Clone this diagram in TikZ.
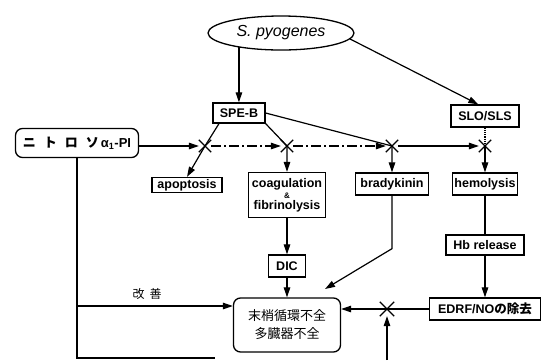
\documentclass[tikz,border=0pt]{standalone}
\usepackage{fontspec}
\setmainfont{Liberation Sans}
\newfontfamily\cjk{Noto Sans CJK JP}
\usepackage{tikz}
\usetikzlibrary{arrows.meta, shapes.geometric, shapes.misc}

\begin{document}
\begin{tikzpicture}[x=1pt, y=-1pt]
        \tikzset{box/.style={draw, line width=1.3pt, inner sep=1pt, font=\bfseries\fontsize{12.5}{13}\selectfont},
                 rbox/.style={box, rounded corners=7pt},
                 block/.style={cross out, draw, line width=1.3pt, minimum size=11pt, inner sep=0pt},
                 link/.style={line width=1.2pt},
                 arr/.style={link, -{Triangle[length=10pt, width=6.5pt]}},
                 dashdot/.style={dash pattern=on 10pt off 3pt on 2pt off 3pt}}
        \useasboundingbox [fill=white] (0, 0) rectangle (541, 360);
        \node [ellipse, draw, line width=1.3pt, minimum width=146, minimum height=34, font=\itshape\fontsize{16}{18}\selectfont] (pyo) at (281, 33) {S. pyogenes};
        \node [box, minimum width=52, minimum height=20] (speb) at (239, 113) {SPE-B};
        \node [box, minimum width=68, minimum height=22] (slo) at (485, 116) {SLO/SLS};
        \node [rbox, minimum width=123, minimum height=29, font=\bfseries\fontsize{13}{15}\selectfont] (nitro) at (77, 143) {{\cjk ニ\hspace{8pt}ト\hspace{8pt}ロ\hspace{8pt}ソ}\hspace{2pt}α\textsubscript{1}-PI};
        \node [box, minimum width=70, minimum height=15] (apop) at (187, 185) {apoptosis};
        \node [box, minimum width=77, minimum height=45, align=center, font=\bfseries\fontsize{12.5}{11}\selectfont] (coag) at (287, 195) {coagulation\\{\fontsize{8}{8}\selectfont\&}\\fibrinolysis};
        \node [box, minimum width=73, minimum height=22] (brady) at (392, 184) {bradykinin};
        \node [box, minimum width=65, minimum height=22] (hemo) at (485, 184) {hemolysis};
        \node [box, minimum width=78, minimum height=20] (hb) at (485, 245) {Hb release};
        \node [box, minimum width=37, minimum height=22] (dic) at (287, 266) {DIC};
        \node [box, minimum width=111, minimum height=22] (edrf) at (485, 309) {EDRF/NO{\cjk の除去}};
        \node [rbox, minimum width=107, minimum height=54, align=center, font=\cjk\fontsize{13}{18}\selectfont] (organ) at (287, 325) {末梢循環不全\\多臓器不全};
        \node [block] (x1) at (205, 146) {};
        \node [block] (x2) at (287, 146) {};
        \node [block] (x3) at (392, 146) {};
        \node [block] (x4) at (485, 146) {};
        \node [block, minimum size=13] (x5) at (387, 309) {};
        \coordinate (toorgan) at (325, 289);
        \coordinate (imp) at (77, 306);
        \coordinate (low) at (77, 358);
        \coordinate (lowend) at (215, 358);
        \coordinate (up) at (387, 360);
        \draw [arr] (pyo.199) -- (pyo.199 |- speb.north);
        \draw [arr] (pyo.-5) -- (slo.120);
        \draw [arr] (nitro.east |- x1) -- (x1);
        \draw [arr] (speb.208) -- (x1.center) -- (apop.north);
        \draw [arr] (speb.south east) -- (x2.center) -- (coag.north);
        \draw [arr] (speb.east) -- (x3.center) -- (brady.north);
        \draw [arr, dashdot] (x1) -- (x2);
        \draw [arr, dashdot] (x2) -- (x3);
        \draw [arr] (x3) -- (x4);
        \draw [link, densely dotted] (slo) -- (x4.center);
        \draw [arr] (x4.center) -- (hemo);
        \draw [arr] (coag) -- (dic);
        \draw [arr] (dic) -- (organ);
        \draw [arr] (brady.south) -- ++(0, 53) -- (toorgan);
        \draw [link] (hemo) -- (hb);
        \draw [arr] (hb) -- (edrf);
        \draw [link] (edrf.west) -- (x5.center);
        \draw [arr] (x5.center) -- (organ.east |- x5);
        \draw [arr] (up) -- (x5);
        \draw [link] (nitro.south) -- (low) -- (lowend);
        \draw [arr] (imp) -- (imp -| organ.west) node [pos=0.45, above=3pt, font=\cjk\fontsize{12}{14}\selectfont] (better) {改\hspace{5pt}善};
    \end{tikzpicture}
\end{document}
